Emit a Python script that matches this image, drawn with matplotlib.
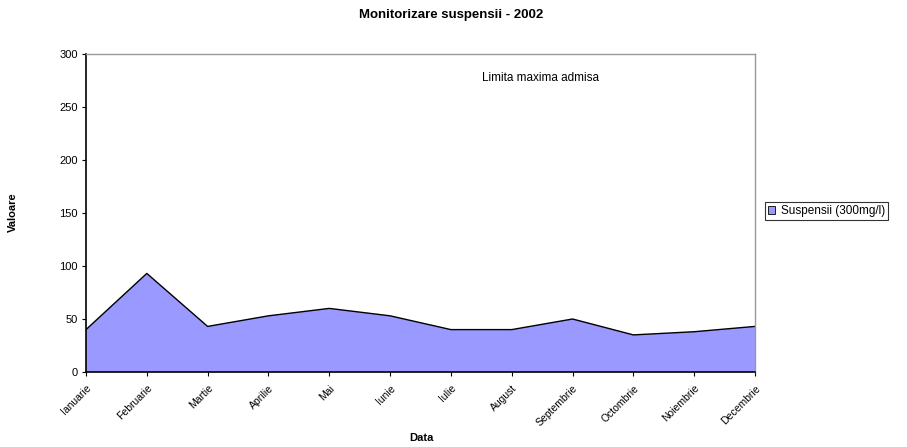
import matplotlib
matplotlib.use("Agg")
import matplotlib.pyplot as plt

plt.rcParams['font.family'] = ['Liberation Sans', 'DejaVu Sans']

months = ["Ianuarie", "Februarie", "Martie", "Aprilie", "Mai", "Iunie",
          "Iulie", "August", "Septembrie", "Octombrie", "Noiembrie", "Decembrie"]
suspensii = [40, 93, 43, 53, 60, 53, 40, 40, 50, 35, 38, 43]
yticks = [0, 50, 100, 150, 200, 250, 300]

fig = plt.figure(figsize=(9.07, 4.47), dpi=100)
ax = fig.add_axes([86/907, 1 - 372/447, (755 - 86)/907, (372 - 54)/447])

x = list(range(len(months)))
ax.fill_between(x, suspensii, 0, facecolor="#9999FF", edgecolor="none",
                label="Suspensii (300mg/l)")
ax.plot(x, suspensii, color="black", lw=1.0)

ax.set_xlim(0, len(months) - 1)
ax.set_ylim(0, 300)
ax.set_yticks(yticks)
ax.set_yticklabels([str(v) for v in yticks], fontsize=8)
ax.set_xticks(x)
ax.set_xticklabels(months, fontsize=7.5, rotation=45, ha="right",
                   rotation_mode="anchor")
ax.tick_params(axis="both", direction="out", length=3, width=0.8, color="black")
ax.tick_params(axis="y", pad=3)
ax.tick_params(axis="x", pad=5)

for side in ("top", "right"):
    ax.spines[side].set_color("#999999")
    ax.spines[side].set_linewidth(1.0)
for side in ("left", "bottom"):
    ax.spines[side].set_color("black")
    ax.spines[side].set_linewidth(1.2)

ax.text(7.48, 277, "Limita maxima admisa", fontsize=8.5, ha="center", va="center")

fig.text(451/907, 1 - 15/447, "Monitorizare suspensii - 2002",
         fontsize=9.5, fontweight="bold", ha="center", va="center")
fig.text(13/907, 1 - 212/447, "Valoare", fontsize=8, fontweight="bold",
         rotation=90, ha="center", va="center")
fig.text(421/907, 1 - 438/447, "Data", fontsize=8, fontweight="bold",
         ha="center", va="center")

leg = fig.legend(loc="center left", bbox_to_anchor=(765/907, 1 - 211/447),
                 fontsize=8.5, frameon=True, fancybox=False, handlelength=0.6,
                 handleheight=0.6, handletextpad=0.5, borderpad=0.25,
                 borderaxespad=0)
leg.get_frame().set_edgecolor("black")
leg.get_frame().set_linewidth(0.8)
for h in leg.legend_handles:
    h.set_edgecolor("black")
    h.set_linewidth(0.6)

fig.savefig("out.png", dpi=100)
